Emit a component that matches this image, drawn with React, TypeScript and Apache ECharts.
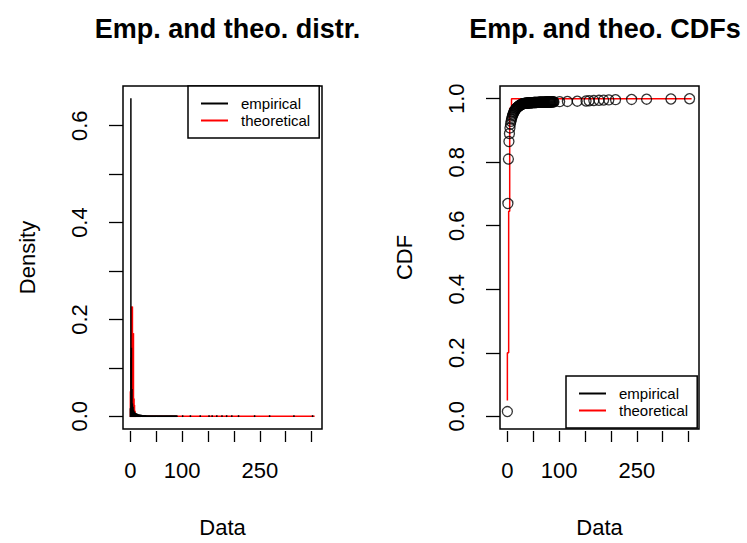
import React, { useEffect, useRef } from "react";
import * as echarts from "echarts";

// ---------- data ----------
// empirical probability masses for the observed values 0..90 (index = value)
const empHeadProbs = [
  0.015, 0.655, 0.14, 0.055, 0.025, 0.018, 0.012, 0.009, 0.007, 0.006, 0.005,
  0.0045, 0.004, 0.0035, 0.0033, 0.0025, 0.0022, 0.002, 0.0018, 0.0016, 0.0015,
  0.0014, 0.0013, 0.0012, 0.0011, 0.001, 0.001, 0.0009, 0.0009, 0.0008, 0.0008,
  0.0003, 0.00025, 0.0003, 0.0002, 0.00025, 0.0002, 0.0002, 0.00015, 0.0002, 0.00015,
  0.00015, 0.0001, 0.00015, 0.0001, 0.00015, 0.0001, 0.0001, 0.00015, 0.0001, 0.0001,
  0.0001, 0.00008, 0.0001, 0.00007, 0.0001, 0.00008, 0.00007, 0.0001, 0.00007, 0.00008,
  0.00007, 0.00006, 0.00007, 0.00005, 0.00007, 0.00006, 0.00005, 0.00007, 0.00005, 0.00006,
  0.00005, 0.00006, 0.00004, 0.00005, 0.00005, 0.00004, 0.00005, 0.00004, 0.00005, 0.00004,
  0.00004, 0.00005, 0.00003, 0.00004, 0.00004, 0.00003, 0.00004, 0.00003, 0.00004, 0.00003,
];
// sparse large observations (each observed once)
const empTailValues = [101, 116, 135, 152, 158, 167, 177, 186, 196, 209, 240, 269, 316, 352];
const empTailProb = 0.0007;

// theoretical probability masses (density panel)
const theoDensityValues = [0, 1, 2, 3, 4, 5, 6, 7, 8, 9, 10, 11];
const theoDensityProbs = [0.05, 0.12, 0.225, 0.225, 0.225, 0.17, 0.17, 0.035, 0.022, 0.01, 0.004, 0.002];
const theoSupport = [0, 356];

// theoretical CDF (step curve vertices)
const theoCdfX = [0, 0, 2.5, 2.5, 4.5, 4.5, 8, 8, 356];
const theoCdfY = [0.05, 0.2, 0.2, 0.646, 0.646, 0.97, 0.97, 1.0, 1.0];

// axes
const xTicks = [0, 50, 100, 150, 200, 250, 300, 350];
const xTickLabels = [0, 100, 250];
const densityTicks = [0, 0.1, 0.2, 0.3, 0.4, 0.5, 0.6];
const densityTickLabels = [0, 0.2, 0.4, 0.6];
const cdfTicks = [0, 0.2, 0.4, 0.6, 0.8, 1.0];
const xRange = [-14.24, 370.24];
const densityRange = [-0.02624, 0.682];
const cdfRange = [-0.04, 1.04];

const FONT = "Liberation Sans, Arial, sans-serif";

export default function App() {
  const ref = useRef<HTMLDivElement>(null);

  useEffect(() => {
    if (!ref.current) return;
    const chart = echarts.init(ref.current, undefined, { renderer: "svg" });

    const empPoints: number[][] = [];
    empHeadProbs.forEach((p, k) => empPoints.push([k, p]));
    empTailValues.forEach((v) => empPoints.push([v, empTailProb]));

    const empCdf: number[][] = [];
    let acc = 0;
    empPoints.forEach(([v, p]) => {
      acc += p;
      empCdf.push([v, acc]);
    });

    const theoPoints = theoDensityValues.map((v, i) => [v, theoDensityProbs[i]]);
    const theoCdf = theoCdfX.map((x, i) => [x, theoCdfY[i]]);

    const hLines = (params: any, api: any) => {
      const x = api.value(0);
      const y = api.value(1);
      const p0 = api.coord([x, 0]);
      const p1 = api.coord([x, y]);
      return {
        type: "line",
        shape: { x1: p0[0], y1: p0[1], x2: p1[0], y2: p1[1] },
        style: { stroke: api.visual("color"), lineWidth: 1.5, lineCap: "square" },
      };
    };

    const tickLabelStyle = { fontSize: 22, color: "#000", fontFamily: FONT };
    const nameStyle = { fontSize: 22, color: "#000", fontFamily: FONT };

    const xAxisBase = (gridIndex: number) => ({
      type: "value",
      gridIndex,
      min: xRange[0],
      max: xRange[1],
      offset: 2,
      name: "Data",
      nameLocation: "middle",
      nameGap: 85,
      nameTextStyle: nameStyle,
      axisLine: { show: false, onZero: false },
      splitLine: { show: false },
      axisTick: { show: true, inside: false, length: 11, customValues: xTicks, lineStyle: { color: "#000", width: 1.3 } },
      axisLabel: { show: true, margin: 28, customValues: xTickLabels, ...tickLabelStyle },
    });

    const yAxisBase = (gridIndex: number, name: string, range: number[], ticks: number[], labels: number[]) => ({
      type: "value",
      gridIndex,
      min: range[0],
      max: range[1],
      name,
      nameLocation: "middle",
      nameGap: 85,
      nameRotate: 90,
      nameTextStyle: nameStyle,
      axisLine: { show: false, onZero: false },
      splitLine: { show: false },
      axisTick: { show: true, inside: false, length: 14, customValues: ticks, lineStyle: { color: "#000", width: 1.3 } },
      axisLabel: {
        show: true,
        rotate: 90,
        margin: 33,
        customValues: labels,
        formatter: (v: number) => v.toFixed(1),
        ...tickLabelStyle,
      },
    });

    const legendBase = (top: number, left: number) => ({
      orient: "vertical",
      left,
      top,
      padding: [9, 9, 9, 13],
      itemWidth: 27,
      itemHeight: 2,
      itemGap: 0,
      icon: "rect",
      backgroundColor: "#fff",
      borderColor: "#000",
      borderWidth: 1.5,
      borderRadius: 0,
      selectedMode: false,
      textStyle: { fontSize: 15, color: "#000", fontFamily: FONT, lineHeight: 17, padding: [0, 0, 0, 8] },
      data: [
        { name: "empirical", icon: "rect", itemStyle: { color: "#000", borderWidth: 0 } },
        { name: "theoretical", icon: "rect", itemStyle: { color: "#ff0000", borderWidth: 0 } },
      ],
    });

    const titleStyle = { fontSize: 27, fontWeight: "bold", color: "#000", fontFamily: FONT };

    chart.setOption({
      animation: false,
      backgroundColor: "#fff",
      textStyle: { fontFamily: FONT },
      title: [
        { text: "Emp. and theo. distr.", left: 222.5, top: 10, textAlign: "center", textStyle: titleStyle },
        { text: "Emp. and theo. CDFs", left: 600, top: 10, textAlign: "center", textStyle: titleStyle },
      ],
      legend: [legendBase(86, 188), legendBase(376, 566)],
      grid: [
        { left: 123, top: 86, width: 199, height: 343, show: true, borderColor: "#000", borderWidth: 1.5, backgroundColor: "transparent" },
        { left: 500, top: 86, width: 199, height: 343, show: true, borderColor: "#000", borderWidth: 1.5, backgroundColor: "transparent" },
      ],
      xAxis: [xAxisBase(0), xAxisBase(1)],
      yAxis: [
        yAxisBase(0, "Density", densityRange, densityTicks, densityTickLabels),
        yAxisBase(1, "CDF", cdfRange, cdfTicks, cdfTicks),
      ],
      series: [
        {
          name: "theoretical",
          type: "line",
          xAxisIndex: 0,
          yAxisIndex: 0,
          data: theoSupport.map((x) => [x, 0]),
          symbol: "none",
          lineStyle: { color: "#ff0000", width: 1.5 },
          itemStyle: { color: "#ff0000" },
          z: 2,
        },
        {
          name: "theoretical",
          type: "custom",
          xAxisIndex: 0,
          yAxisIndex: 0,
          data: theoPoints,
          itemStyle: { color: "#ff0000" },
          renderItem: hLines,
          z: 3,
        },
        {
          name: "empirical",
          type: "custom",
          xAxisIndex: 0,
          yAxisIndex: 0,
          data: empPoints,
          itemStyle: { color: "#000" },
          renderItem: hLines,
          z: 4,
        },
        {
          name: "theoretical",
          type: "line",
          xAxisIndex: 1,
          yAxisIndex: 1,
          data: theoCdf,
          symbol: "none",
          lineStyle: { color: "#ff0000", width: 1.5 },
          itemStyle: { color: "#ff0000" },
          z: 2,
        },
        {
          name: "empirical",
          type: "scatter",
          xAxisIndex: 1,
          yAxisIndex: 1,
          data: empCdf,
          symbol: "circle",
          symbolSize: 10,
          itemStyle: { color: "rgba(0,0,0,0)", borderColor: "#000", borderWidth: 1.3 },
          z: 3,
        },
      ],
    });

    return () => chart.dispose();
  }, []);

  return (
    <div
      ref={ref}
      style={{ position: "fixed", left: 0, top: 0, width: 747, height: 543, background: "#fff" }}
    />
  );
}
